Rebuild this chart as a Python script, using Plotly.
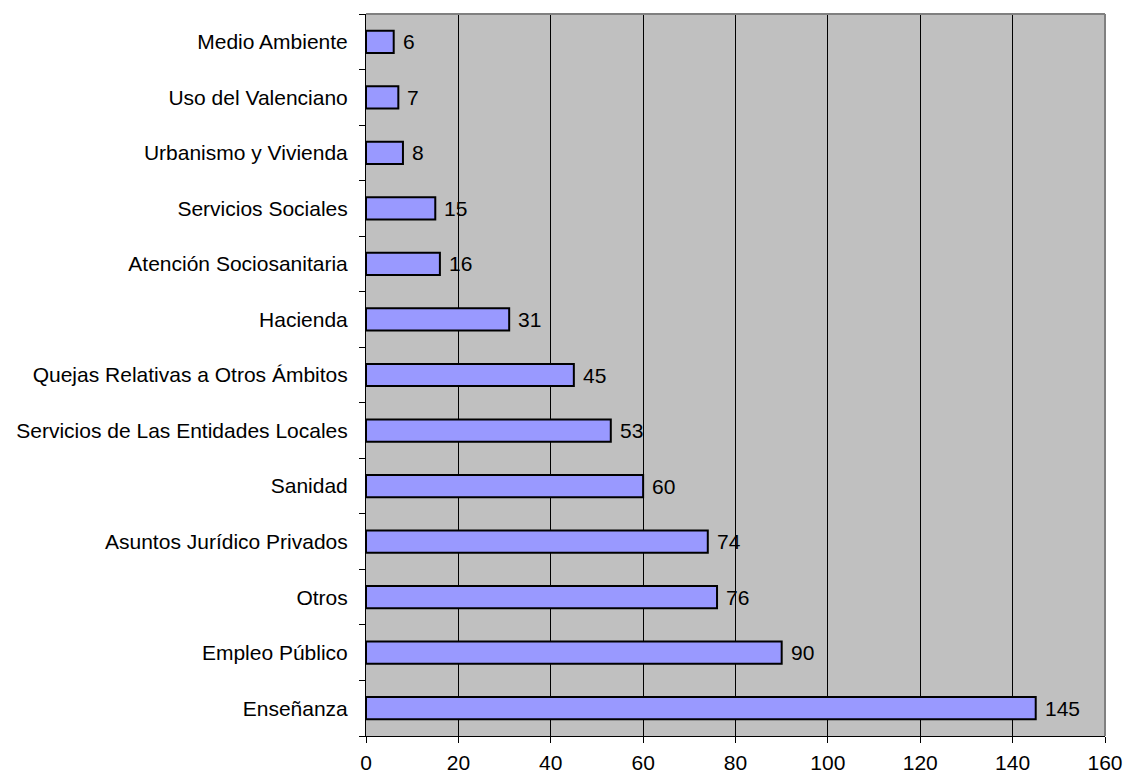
import plotly.graph_objects as go

categories = [
    "Enseñanza", "Empleo Público", "Otros", "Asuntos Jurídico Privados",
    "Sanidad", "Servicios de Las Entidades Locales",
    "Quejas Relativas a Otros Ámbitos", "Hacienda",
    "Atención Sociosanitaria", "Servicios Sociales",
    "Urbanismo y Vivienda", "Uso del Valenciano", "Medio Ambiente",
]
values = [145, 90, 76, 74, 60, 53, 45, 31, 16, 15, 8, 7, 6]
x_ticks = [0, 20, 40, 60, 80, 100, 120, 140, 160]

font = dict(family="Liberation Sans, Arial, sans-serif", size=21, color="black")

fig = go.Figure(go.Bar(
    y=categories,
    x=values,
    orientation="h",
    width=0.4,
    marker=dict(color="#9999FF", line=dict(color="black", width=2)),
    hoverinfo="x+y",
))

# value labels just to the right of each bar end
for cat, val in zip(categories, values):
    fig.add_annotation(x=val, y=cat, text=str(val), showarrow=False,
                       xanchor="left", xshift=7, font=font)

fig.update_layout(
    width=1126, height=776,
    margin=dict(l=366, r=21, t=14, b=40),
    paper_bgcolor="white",
    plot_bgcolor="#C0C0C0",
    font=font,
    showlegend=False,
)

fig.update_xaxes(
    range=[0, 160], tickvals=x_ticks, ticktext=[str(t) for t in x_ticks],
    showgrid=True, gridcolor="black", gridwidth=1,
    showline=True, linecolor="black", linewidth=1,
    ticks="outside", ticklen=6, tickcolor="black",
    zeroline=False, tickfont=font, ticklabelstandoff=2, automargin=False,
)
fig.update_yaxes(
    type="category", categoryorder="array", categoryarray=categories,
    showgrid=False, showline=True, linecolor="black", linewidth=1,
    ticks="outside", ticklen=6, tickcolor="black", tickson="boundaries",
    tickfont=font, ticklabelstandoff=13, automargin=False,
)

# gray frame on the top and right edges of the plot area
fig.add_shape(type="line", xref="paper", yref="paper", x0=0, x1=1, y0=1, y1=1,
              line=dict(color="#808080", width=2))
fig.add_shape(type="line", xref="paper", yref="paper", x0=1, x1=1, y0=0, y1=1,
              line=dict(color="#808080", width=2))

fig.write_html("out.html")
